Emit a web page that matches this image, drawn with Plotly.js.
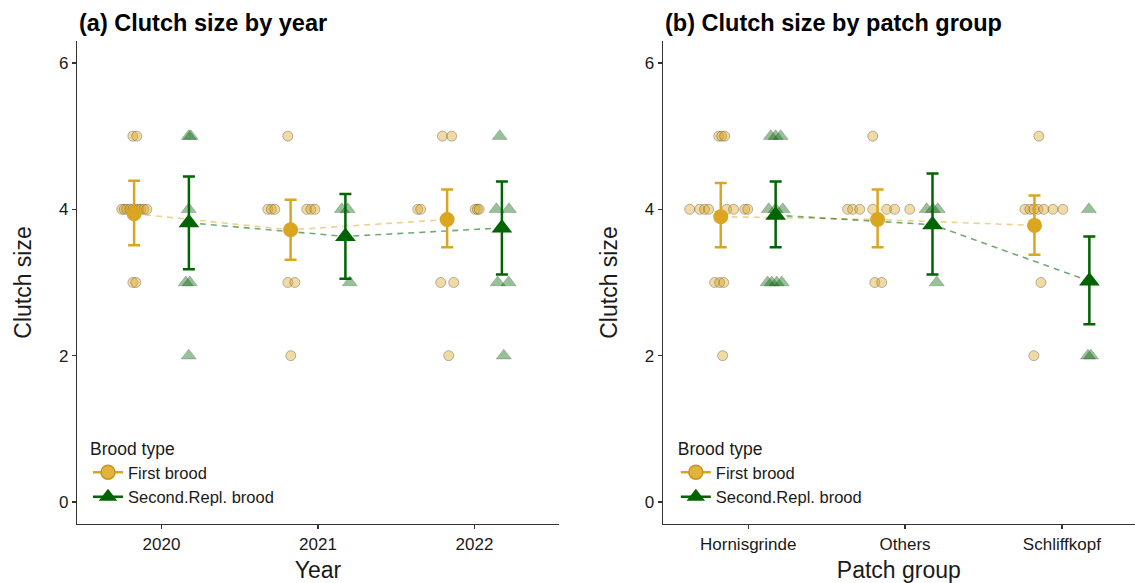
<!DOCTYPE html>
<html>
<head>
<meta charset="utf-8">
<script src="https://cdn.plot.ly/plotly-3.0.1.min.js"></script>
<style>html,body{margin:0;padding:0;background:#fff;}#chart{width:1135px;height:583px;}</style>
</head>
<body>
<div id="chart"></div>
<script>
// ---------- categories ----------
const yearCats = ['2020', '2021', '2022'];
const patchCats = ['Hornisgrinde', 'Others', 'Schliffkopf'];
const broodTypes = ['First brood', 'Second.Repl. brood'];

// ---------- panel (a): means and 95% intervals by year ----------
const yearFirstMean  = [3.94, 3.72, 3.86];
const yearFirstLow   = [3.51, 3.31, 3.48];
const yearFirstHigh  = [4.39, 4.13, 4.27];
const yearSecondMean = [3.815, 3.63, 3.745];
const yearSecondLow  = [3.18, 3.05, 3.11];
const yearSecondHigh = [4.45, 4.21, 4.38];

// ---------- panel (a): raw clutch sizes (category index, value, jitter offset from category centre) ----------
const yearFirstCat = [0,0, 0,0,0,0,0,0,0,0,0,0, 0,0,
                      1, 1,1,1,1,1,1, 1,1, 1,
                      2,2, 2,2,2,2,2, 2,2, 2];
const yearFirstVal = [5,5, 4,4,4,4,4,4,4,4,4,4, 3,3,
                      5, 4,4,4,4,4,4, 3,3, 2,
                      5,5, 4,4,4,4,4, 3,3, 2];
const yearFirstJit = [-0.183,-0.158, -0.254,-0.238,-0.222,-0.202,-0.183,-0.164,-0.145,-0.132,-0.113,-0.094, -0.183,-0.164,
                      -0.193, -0.321,-0.298,-0.276,-0.072,-0.046,-0.020, -0.193,-0.148, -0.174,
                      -0.205,-0.146, -0.363,-0.344,0.004,0.018,0.030, -0.216,-0.133, -0.165];
const yearSecondCat = [0,0, 0, 0,0, 0,
                       1,1, 1,
                       2, 2,2, 2,2, 2];
const yearSecondVal = [5,5, 4, 3,3, 2,
                       4,4, 3,
                       5, 4,4, 3,3, 2];
const yearSecondJit = [0.174,0.187, 0.174, 0.155,0.181, 0.174,
                       0.152,0.190, 0.203,
                       0.161, 0.140,0.220, 0.148,0.218, 0.187];

// ---------- panel (b): means and 95% intervals by patch group ----------
const patchFirstMean  = [3.90, 3.86, 3.78];
const patchFirstLow   = [3.48, 3.48, 3.38];
const patchFirstHigh  = [4.36, 4.27, 4.19];
const patchSecondMean = [3.92, 3.79, 3.02];
const patchSecondLow  = [3.48, 3.11, 2.43];
const patchSecondHigh = [4.38, 4.49, 3.63];

// ---------- panel (b): raw clutch sizes ----------
const patchFirstCat = [0,0,0, 0,0,0,0,0,0,0,0, 0,0,0, 0,
                       1, 1,1,1,1,1,1,1, 1,1,
                       2, 2,2,2,2,2,2,2, 2, 2];
const patchFirstVal = [5,5,5, 4,4,4,4,4,4,4,4, 3,3,3, 2,
                       5, 4,4,4,4,4,4,4, 3,3,
                       5, 4,4,4,4,4,4,4, 3, 2];
const patchFirstJit = [-0.188,-0.169,-0.150, -0.373,-0.309,-0.278,-0.252,-0.137,-0.093,-0.022,-0.003, -0.214,-0.182,-0.156, -0.163,
                       -0.206, -0.366,-0.334,-0.289,-0.206,-0.117,-0.066,0.030, -0.193,-0.149,
                       -0.147, -0.236,-0.204,-0.179,-0.153,-0.115,-0.057,0.006, -0.134, -0.179];
const patchSecondCat = [0,0,0, 0,0,0, 0,0,0,0,
                        1,1,1, 1,
                        2, 2,2];
const patchSecondVal = [5,5,5, 4,4,4, 3,3,3,3,
                        4,4,4, 3,
                        4, 2,2];
const patchSecondJit = [0.144,0.175,0.207, 0.131,0.175,0.220, 0.124,0.150,0.182,0.214,
                        0.138,0.177,0.209, 0.202,
                        0.172, 0.166,0.185];

// ---------- styling ----------
const GOLD = '#DAA520';
const GREEN = '#006400';
const DODGE = 0.175;
const FONT = 'Liberation Sans, Arial, sans-serif';

function idxToX(cats, jit) { return cats.map((c, i) => c + 1 + jit[i]); }
function meanX(n, sign) { return Array.from({length: n}, (_, i) => i + 1 + sign * DODGE); }
function diff(a, b) { return a.map((v, i) => v - b[i]); }

function buildPanel(xa, ya, legendId, fCat, fVal, fJit, sCat, sVal, sJit,
                    fMean, fLow, fHigh, sMean, sLow, sHigh) {
  const tr = [];
  tr.push({x: idxToX(fCat, fJit), y: fVal, xaxis: xa, yaxis: ya, type: 'scatter', mode: 'markers',
    showlegend: false, hoverinfo: 'skip',
    marker: {symbol: 'circle', size: 10, color: 'rgba(218,165,32,0.4)', line: {color: 'rgba(70,60,40,0.45)', width: 0.8}}});
  tr.push({x: idxToX(sCat, sJit), y: sVal, xaxis: xa, yaxis: ya, type: 'scatter', mode: 'markers',
    showlegend: false, hoverinfo: 'skip',
    marker: {symbol: 'triangle-up', size: 13, color: 'rgba(0,100,0,0.4)', line: {color: 'rgba(60,80,60,0.35)', width: 0.8}}});
  tr.push({x: meanX(3, -1), y: fMean, xaxis: xa, yaxis: ya, type: 'scatter', mode: 'lines',
    showlegend: false, hoverinfo: 'skip', line: {color: 'rgba(218,165,32,0.5)', width: 1.6, dash: '6px,5px'}});
  tr.push({x: meanX(3, 1), y: sMean, xaxis: xa, yaxis: ya, type: 'scatter', mode: 'lines',
    showlegend: false, hoverinfo: 'skip', line: {color: 'rgba(0,100,0,0.55)', width: 1.6, dash: '6px,5px'}});
  tr.push({x: meanX(3, -1), y: fMean, xaxis: xa, yaxis: ya, type: 'scatter', mode: 'markers',
    showlegend: false,
    error_y: {type: 'data', symmetric: false, array: diff(fHigh, fMean), arrayminus: diff(fMean, fLow),
              color: GOLD, thickness: 2.5, width: 6},
    marker: {symbol: 'circle', size: 15, color: GOLD}});
  tr.push({x: meanX(3, 1), y: sMean, xaxis: xa, yaxis: ya, type: 'scatter', mode: 'markers',
    showlegend: false,
    error_y: {type: 'data', symmetric: false, array: diff(sHigh, sMean), arrayminus: diff(sMean, sLow),
              color: GREEN, thickness: 2.5, width: 6},
    marker: {symbol: 'triangle-up', size: 18, color: GREEN}});
  // legend keys
  tr.push({x: [null], y: [null], xaxis: xa, yaxis: ya, type: 'scatter', mode: 'lines+markers',
    name: broodTypes[0], legend: legendId, showlegend: true,
    line: {color: GOLD, width: 2.5}, marker: {symbol: 'circle', size: 14, color: '#E2B43E', line: {color: '#C4961C', width: 1.5}}});
  tr.push({x: [null], y: [null], xaxis: xa, yaxis: ya, type: 'scatter', mode: 'lines+markers',
    name: broodTypes[1], legend: legendId, showlegend: true,
    line: {color: GREEN, width: 2.5}, marker: {symbol: 'triangle-up', size: 16, color: GREEN}});
  return tr;
}

const data = [].concat(
  buildPanel('x', 'y', 'legend', yearFirstCat, yearFirstVal, yearFirstJit, yearSecondCat, yearSecondVal, yearSecondJit,
             yearFirstMean, yearFirstLow, yearFirstHigh, yearSecondMean, yearSecondLow, yearSecondHigh),
  buildPanel('x2', 'y2', 'legend2', patchFirstCat, patchFirstVal, patchFirstJit, patchSecondCat, patchSecondVal, patchSecondJit,
             patchFirstMean, patchFirstLow, patchFirstHigh, patchSecondMean, patchSecondLow, patchSecondHigh)
);

const axisCommon = {
  showgrid: false, zeroline: false, showline: true, linecolor: '#333', linewidth: 1.2,
  ticks: 'outside', ticklen: 4, tickcolor: '#333', tickwidth: 1.2,
  tickfont: {family: FONT, size: 17, color: '#1a1a1a'}, automargin: false
};

const legendCommon = {
  bgcolor: 'rgba(0,0,0,0)', borderwidth: 0,
  font: {family: FONT, size: 16.5, color: '#1a1a1a'},
  title: {text: 'Brood type', font: {family: FONT, size: 17.5, color: '#1a1a1a'}},
  xanchor: 'left', yanchor: 'top', tracegroupgap: 0, itemwidth: 30
};

const layout = {
  width: 1135, height: 583,
  margin: {l: 77, r: 0, t: 41, b: 59, pad: 0},
  paper_bgcolor: '#fff', plot_bgcolor: '#fff',
  showlegend: true,
  xaxis: Object.assign({}, axisCommon, {domain: [0, 0.4556], range: [0.46, 3.54],
    tickvals: [1, 2, 3], ticktext: yearCats,
    title: {text: 'Year', font: {family: FONT, size: 23, color: '#1a1a1a'}, standoff: 20}}),
  yaxis: Object.assign({}, axisCommon, {range: [-0.3, 6.3], tickvals: [0, 2, 4, 6],
    title: {text: 'Clutch size', font: {family: FONT, size: 23, color: '#1a1a1a'}, standoff: 20}}),
  xaxis2: Object.assign({}, axisCommon, {domain: [0.5536, 1], range: [0.455, 3.466], anchor: 'y2',
    tickvals: [1, 2, 3], ticktext: patchCats,
    title: {text: 'Patch group', font: {family: FONT, size: 23, color: '#1a1a1a'}, standoff: 20}}),
  yaxis2: Object.assign({}, axisCommon, {range: [-0.3, 6.3], tickvals: [0, 2, 4, 6], anchor: 'x2',
    title: {text: 'Clutch size', font: {family: FONT, size: 23, color: '#1a1a1a'}, standoff: 20}}),
  legend: Object.assign({}, legendCommon, {x: 0.0104, y: 0.19}),
  legend2: Object.assign({}, legendCommon, {x: 0.566, y: 0.19}),
  annotations: [
    {text: '<b>(a) Clutch size by year</b>', xref: 'paper', yref: 'paper', x: 0, y: 1, xanchor: 'left', yanchor: 'middle',
     yshift: 18, showarrow: false, font: {family: FONT, size: 23.5, color: '#000'}},
    {text: '<b>(b) Clutch size by patch group</b>', xref: 'paper', yref: 'paper', x: 0.5536, y: 1, xanchor: 'left', yanchor: 'middle',
     yshift: 18, showarrow: false, font: {family: FONT, size: 23.5, color: '#000'}}
  ]
};

Plotly.newPlot('chart', data, layout, {displayModeBar: false, staticPlot: true});
</script>
</body>
</html>
